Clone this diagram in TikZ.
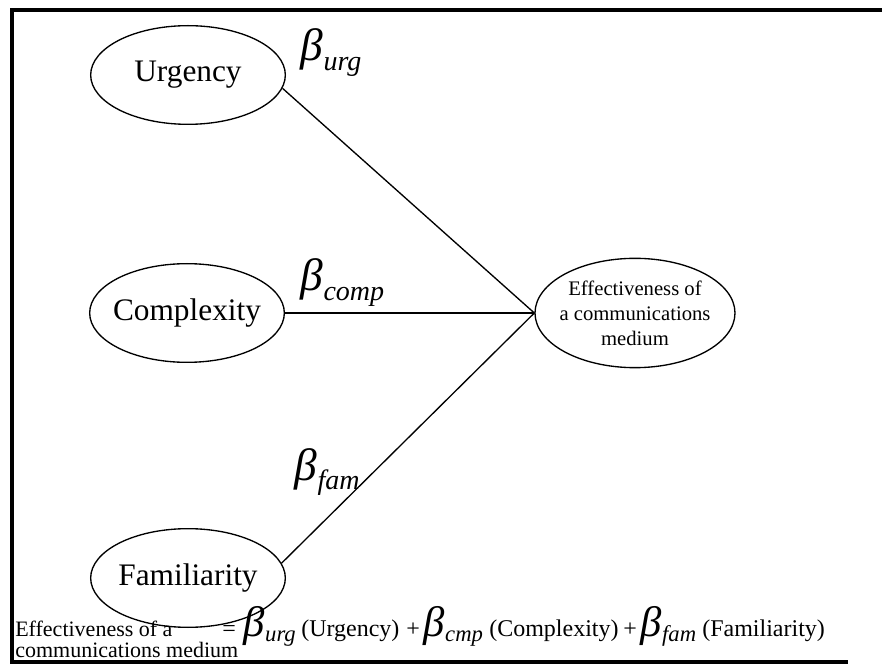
\documentclass[tikz,border=0pt]{standalone}
\usepackage{fontspec}
\setmainfont{Liberation Serif}
\usetikzlibrary{shapes.geometric}
\newcommand{\bsub}[4]{{\fontsize{#1}{#1}\selectfont\textit{β}}\hspace{0.5pt}\raisebox{#3}{\fontsize{#2}{#2}\selectfont\textit{#4}}}
\tikzset{
  factor/.style={ellipse,draw,line width=1pt,minimum width=146pt,minimum height=74pt,inner sep=0pt,inner xsep=-8pt,font=\fontsize{23.5pt}{26pt}\selectfont},
  outcome/.style={ellipse,draw,line width=1pt,minimum width=150pt,minimum height=82pt,inner sep=0pt,inner xsep=-12pt,align=center,font=\fontsize{15.5pt}{18.8pt}\selectfont},
  link/.style={line width=1pt},
  frameline/.style={line width=3pt},
  lab/.style={anchor=base west,inner sep=0pt},
  eqtext/.style={anchor=base west,inner sep=0pt,font=\fontsize{16.5pt}{19pt}\selectfont},
  eqterm/.style={anchor=base west,inner sep=0pt,font=\fontsize{18pt}{20pt}\selectfont}
}
\newcommand{\dbeta}[1]{\bsub{34pt}{21pt}{-7pt}{#1}}
\newcommand{\ebeta}[1]{\bsub{32pt}{17pt}{-4pt}{#1}}
\begin{document}
\begin{tikzpicture}[x=0.75pt,y=-0.75pt]
\useasboundingbox (0,0) rectangle (882,666);
% frame
\coordinate (tl) at (12,10);
\coordinate (tr) at (882,10);
\coordinate (bl) at (12,662);
\coordinate (br) at (848,662);
\draw[frameline] (tr) -- (tl) -- (bl) -- (br);
% nodes
\node[factor] (urg) at (188,75) {Urgency};
\node[factor] (cmp) at (187,313) {Complexity};
\node[factor] (fam) at (188,578) {Familiarity};
\node[outcome] (eff) at (635,313) {Effectiveness of\\a communications\\medium};
% links
\draw[link] (urg.-8) -- (eff.west);
\draw[link] (cmp.east) -- (eff.west);
\draw[link] (fam.9) -- (eff.west);
% beta labels
\node[lab] (burg) at (300,61) {\dbeta{urg}};
\node[lab] (bcmp) at (300,291) {\dbeta{comp}};
\node[lab] (bfam) at (294,480) {\dbeta{fam}};
% equation
\node[eqtext] (lhs1) at (15,636) {Effectiveness of a};
\node[eqtext] (lhs2) at (15,657) {communications medium};
\node[eqterm] (eq) at (222,636) {=};
\node[eqterm] (t1) at (243,636) {\ebeta{urg}};
\node[eqterm] (v1) at (301,636) {(Urgency)};
\node[eqterm] (p1) at (406,636) {+};
\node[eqterm] (t2) at (423,636) {\ebeta{cmp}};
\node[eqterm] (v2) at (489,636) {(Complexity)};
\node[eqterm] (p2) at (623,636) {+};
\node[eqterm] (t3) at (640,636) {\ebeta{fam}};
\node[eqterm] (v3) at (702,636) {(Familiarity)};
\end{tikzpicture}
\end{document}
